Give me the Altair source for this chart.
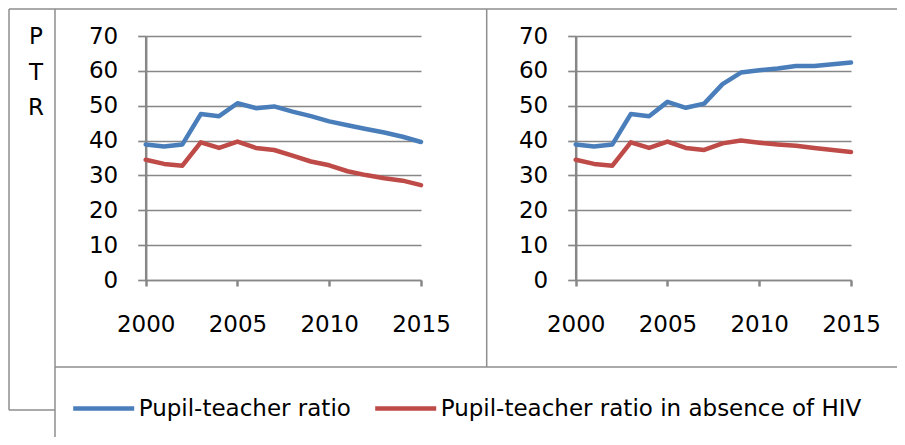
import altair as alt
import pandas as pd

# ---------------- data ----------------
years = list(range(2000, 2016))
series_names = ["Pupil-teacher ratio", "Pupil-teacher ratio in absence of HIV"]
series_colors = ["#4A7EBB", "#BE4B48"]

left_ptr = [38.9, 38.3, 38.9, 47.6, 47.0, 50.7, 49.3, 49.8, 48.3, 47.0, 45.5, 44.4, 43.3, 42.3, 41.1, 39.6]
left_ptr_nohiv = [34.5, 33.3, 32.8, 39.5, 37.9, 39.7, 37.9, 37.3, 35.7, 34.0, 32.9, 31.2, 30.1, 29.2, 28.5, 27.2]
right_ptr = [38.9, 38.3, 38.9, 47.6, 47.0, 51.1, 49.4, 50.6, 56.2, 59.5, 60.2, 60.7, 61.4, 61.4, 61.9, 62.4]
right_ptr_nohiv = [34.5, 33.3, 32.8, 39.5, 37.9, 39.7, 37.9, 37.3, 39.2, 40.0, 39.4, 38.9, 38.5, 37.9, 37.3, 36.7]

x_ticks = [2000, 2005, 2010, 2015]
y_ticks = [0, 10, 20, 30, 40, 50, 60, 70]
side_label = ["P", "T", "R"]

FONT = "DejaVu Sans"
FS = 23
GRAY = "#878787"
BORDER = "#8E8E8E"


def panel_df(a, b):
    return pd.DataFrame({
        "year": years + years,
        "series": [series_names[0]] * len(years) + [series_names[1]] * len(years),
        "value": a + b,
    })


legend = alt.Legend(
    orient="none", legendX=62.7, legendY=339.5, direction="horizontal", title=None,
    symbolType="stroke", symbolSize=3721, symbolStrokeWidth=4.5,
    labelFont=FONT, labelFontSize=FS, labelColor="black", labelOffset=2,
    labelLimit=600, columnPadding=14,
)


def panel(df, x_range, y_offset):
    return alt.Chart(df).mark_line(strokeWidth=4.5, strokeCap="round", strokeJoin="round").encode(
        x=alt.X("year:Q",
                scale=alt.Scale(domain=[2000, 2015], range=x_range, nice=False, zero=False),
                axis=alt.Axis(orient="bottom", values=x_ticks, format="d", title=None, grid=False,
                              labelFlush=False, labelOverlap=False,
                              domainColor=GRAY, domainWidth=1.7, tickColor=GRAY, tickWidth=2.5,
                              tickSize=6, labelPadding=27, labelFont=FONT, labelFontSize=FS,
                              labelColor="black")),
        y=alt.Y("value:Q",
                scale=alt.Scale(domain=[0, 70], nice=False),
                axis=alt.Axis(orient="left", offset=y_offset, values=y_ticks, title=None, grid=True,
                              labelFlush=False, labelOverlap=False,
                              gridColor=GRAY, gridWidth=1.7, domainColor=GRAY, domainWidth=2.5,
                              tickColor=GRAY, tickWidth=1.7, tickSize=8, labelPadding=20,
                              labelFont=FONT, labelFontSize=FS, labelColor="black")),
        color=alt.Color("series:N", scale=alt.Scale(domain=series_names, range=series_colors),
                        legend=legend),
    )


def rule(**kw):
    return alt.Chart(pd.DataFrame({"k": [0]})).mark_rule(color=BORDER, strokeWidth=1.5).encode(**kw)


borders = [
    rule(x=alt.value(1), y=alt.value(-27), y2=alt.value(374)),
    rule(x=alt.value(1), x2=alt.value(47), y=alt.value(374)),
    rule(x=alt.value(47), y=alt.value(-27), y2=alt.value(401)),
    rule(x=alt.value(1), x2=alt.value(889), y=alt.value(-27)),
    rule(x=alt.value(478.7), y=alt.value(-27), y2=alt.value(331)),
    rule(x=alt.value(47), x2=alt.value(889), y=alt.value(331)),
]

ptr_text = alt.Chart(pd.DataFrame({"k": [0]})).mark_text(
    font=FONT, fontSize=FS, color="black", align="center", baseline="middle", lineHeight=35.5
).encode(x=alt.value(28), y=alt.value(1), text=alt.value(side_label))

p1 = panel(panel_df(left_ptr, left_ptr_nohiv), [137.7, 413], -137.7)
p2 = panel(panel_df(right_ptr, right_ptr_nohiv), [567.7, 843], -567.7)

chart = alt.layer(*borders, ptr_text, p1, p2).resolve_scale(
    x="independent", y="independent"
).resolve_axis(
    x="independent", y="independent"
).properties(
    width=889, height=244,
    autosize=alt.AutoSizeParams(type="none"),
    padding={"left": 0, "top": 28, "right": 0, "bottom": 165},
    background="white",
).configure_view(strokeWidth=0)

chart.save("out.html", embed_options={"renderer": "svg", "actions": False})
